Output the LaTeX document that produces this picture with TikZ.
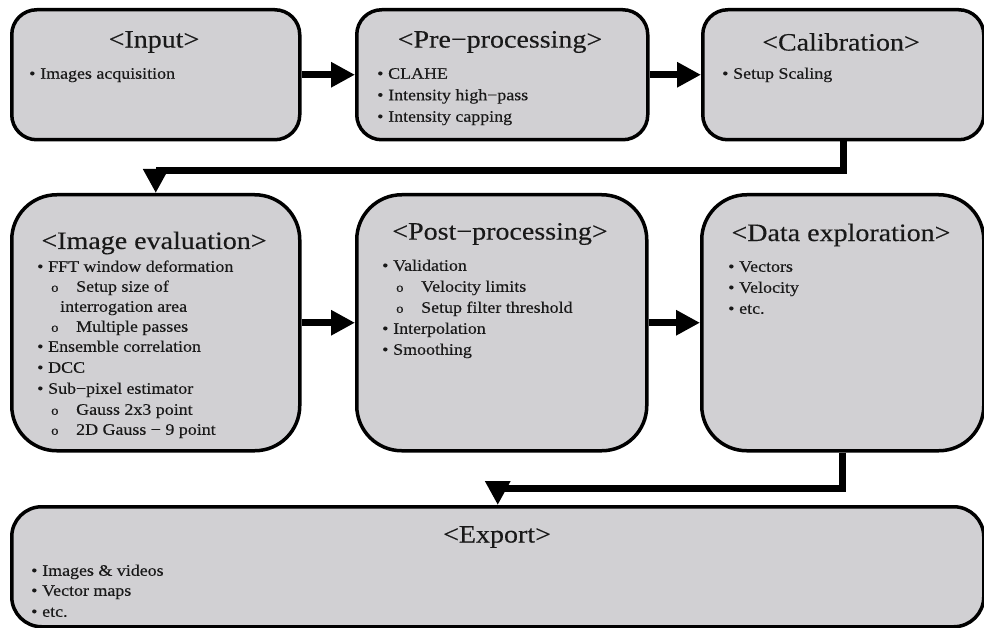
\documentclass[tikz,border=0pt]{standalone}
\usepackage{fontspec}
\setmainfont{Liberation Serif}[FakeStretch=1.12,FakeBold=0.3]
\usetikzlibrary{arrows.meta}
\definecolor{boxfill}{RGB}{209,208,211}
\definecolor{txt}{RGB}{25,25,25}
\newcommand{\bl}{\makebox[11pt][l]{•}}
\newcommand{\ob}{\makebox[25pt][l]{\fontsize{13}{13}\selectfont o}}
\begin{document}
\begin{tikzpicture}[x=1pt,y=-1pt,
  box/.style={draw=black, line width=3.5pt, fill=boxfill, rounded corners=#1, anchor=north west, inner sep=0pt},
  title/.style={font=\fontsize{25}{29}\selectfont, text=txt, inner sep=0pt},
  item/.style={font=\fontsize{16}{20}\selectfont, text=txt, anchor=west, inner sep=0pt, text height=11pt, text depth=3.5pt},
  flow/.style={line width=7pt, line join=miter, -{Triangle[length=24pt,width=24pt]}}]
\useasboundingbox (0,0) rectangle (984,628);
% boxes
\node[box=25pt, minimum width=288pt, minimum height=130pt] (input) at (10,8) {};
\node[box=25pt, minimum width=291pt, minimum height=130pt] (pre) at (355,8) {};
\node[box=25pt, minimum width=281pt, minimum height=130pt] (calib) at (701,8) {};
\node[box=45pt, minimum width=288pt, minimum height=256pt] (imgeval) at (10,193) {};
\node[box=45pt, minimum width=290pt, minimum height=256pt] (post) at (355,193) {};
\node[box=45pt, minimum width=282pt, minimum height=256pt] (data) at (700,193) {};
\node[box=30pt, minimum width=972pt, minimum height=120pt] (export) at (10,505) {};
% titles
\node[title] (tinput) at (154,42) {<Input>};
\node[title] (tpre) at (500,42) {<Pre−processing>};
\node[title] (tcalib) at (841,42) {<Calibration>};
\node[title] (timg) at (154,243) {<Image evaluation>};
\node[title] (tpost) at (500,234) {<Post−processing>};
\node[title] (tdata) at (841,235) {<Data exploration>};
\node[title] (texp) at (497,537) {<Export>};
% items
\node[item] (in1) at (29,75) {\bl Images acquisition};
\node[item] (pr1) at (377,75) {\bl CLAHE};
\node[item] (pr2) at (377,96.5) {\bl Intensity high−pass};
\node[item] (pr3) at (377,118) {\bl Intensity capping};
\node[item] (ca1) at (722,75) {\bl Setup Scaling};
\node[item] (ie1) at (37,268) {\bl FFT window deformation};
\node[item] (ie2) at (51,288) {\ob Setup size of};
\node[item] (ie3) at (60,308) {interrogation area};
\node[item] (ie4) at (51,328) {\ob Multiple passes};
\node[item] (ie5) at (37,348) {\bl Ensemble correlation};
\node[item] (ie6) at (37,369) {\bl DCC};
\node[item] (ie7) at (37,390) {\bl Sub−pixel estimator};
\node[item] (ie8) at (51,411) {\ob Gauss 2x3 point};
\node[item] (ie9) at (51,431) {\ob 2D Gauss − 9 point};
\node[item] (po1) at (382,267) {\bl Validation};
\node[item] (po2) at (396,288) {\ob Velocity limits};
\node[item] (po3) at (396,309) {\ob Setup filter threshold};
\node[item] (po4) at (382,330) {\bl Interpolation};
\node[item] (po5) at (382,351) {\bl Smoothing};
\node[item] (da1) at (728,268) {\bl Vectors};
\node[item] (da2) at (728,289) {\bl Velocity};
\node[item] (da3) at (728,310) {\bl etc.};
\node[item] (ex1) at (31,572) {\bl Images \& videos};
\node[item] (ex2) at (31,592) {\bl Vector maps};
\node[item] (ex3) at (31,613) {\bl etc.};
% connectors
\draw[flow] (input.east) -- (pre.west);
\draw[flow] (pre.east) -- (calib.west);
\draw[flow] (calib.south) -- ++(0,29) -| (imgeval.north);
\draw[flow] (imgeval.east) -- (post.west);
\draw[flow] (post.east) -- (data.west);
\draw[flow] (data.south) -- ++(0,36) -| (export.north);
\end{tikzpicture}
\end{document}
